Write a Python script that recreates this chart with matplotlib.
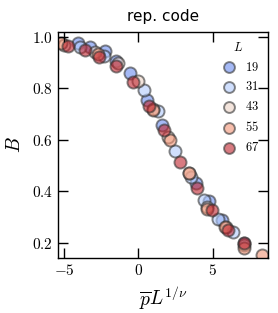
import numpy as np
import matplotlib
matplotlib.use("Agg")
import matplotlib.pyplot as plt
from matplotlib.ticker import FuncFormatter

plt.rcParams['mathtext.fontset'] = 'cm'

sizes = [19, 31, 43, 55, 67]

x19 = [-4.07, -3.29, -2.28, -1.5, -0.54, 0.58, 1.59, 3.87, 4.77, 5.6, 7.07]
b19 = [0.975, 0.962, 0.947, 0.908, 0.859, 0.755, 0.658, 0.433, 0.36, 0.287, 0.2]
x31 = [-3.96, -2.35, 0.34, 1.28, 2.46, 3.53, 4.43, 5.37, 6.37]
b31 = [0.962, 0.926, 0.794, 0.714, 0.558, 0.457, 0.367, 0.293, 0.242]
x43 = [-5.0, -2.9, -1.4, 0.0, 1.0, 2.0, 3.4, 4.6, 5.9, 7.07]
b43 = [0.97, 0.94, 0.9, 0.83, 0.72, 0.61, 0.47, 0.34, 0.26, 0.19]
x55 = [-5.19, -2.73, 0.96, 2.13, 3.42, 4.6, 5.84, 7.07, 8.3]
b55 = [0.975, 0.934, 0.717, 0.6, 0.47, 0.33, 0.26, 0.18, 0.15]
x67 = [-4.74, -3.62, -2.62, -1.5, -0.38, 0.69, 1.74, 2.77, 3.9, 4.93, 6.0, 7.07]
b67 = [0.965, 0.95, 0.924, 0.889, 0.826, 0.732, 0.639, 0.512, 0.413, 0.325, 0.25, 0.2]

xs = [x19, x31, x43, x55, x67]
bs = [b19, b31, b43, b55, b67]
colors = plt.cm.coolwarm(np.linspace(0.15, 0.97, 5))

fig = plt.figure(figsize=(2.78, 3.13), dpi=100)
ax = fig.add_axes([0.209, 0.176, 0.755, 0.722])

for L, x, b, c in zip(sizes, xs, bs, colors):
    ax.scatter(x, b, s=75, color=c, alpha=0.6, edgecolor='#333333',
               linewidth=1.4, label=f'${L}$')

ax.set_xlim(-5.4, 8.7)
ax.set_ylim(0.14, 1.02)
ax.set_xticks([-5, 0, 5])
ax.set_yticks([0.2, 0.4, 0.6, 0.8, 1.0])
ax.xaxis.set_major_formatter(FuncFormatter(lambda v, p: f'${v:g}$'))
ax.yaxis.set_major_formatter(FuncFormatter(lambda v, p: f'${v:.1f}$'))
ax.tick_params(direction='in', length=7, width=1, top=True, right=True, labelsize=11)
for sp in ax.spines.values():
    sp.set_linewidth(1)

ax.set_title('rep. code', fontsize=11, pad=8)
ax.set_xlabel(r'$\overline{p}L^{1/\nu}$', fontsize=14, labelpad=5)
ax.set_ylabel(r'$B$', fontsize=14, labelpad=6)

leg = ax.legend(title='$L$', frameon=False, loc='upper right', fontsize=9,
                title_fontsize=9, handletextpad=0.3, borderaxespad=0.3,
                labelspacing=0.55, markerscale=0.9)

fig.savefig('out.png', dpi=100)
